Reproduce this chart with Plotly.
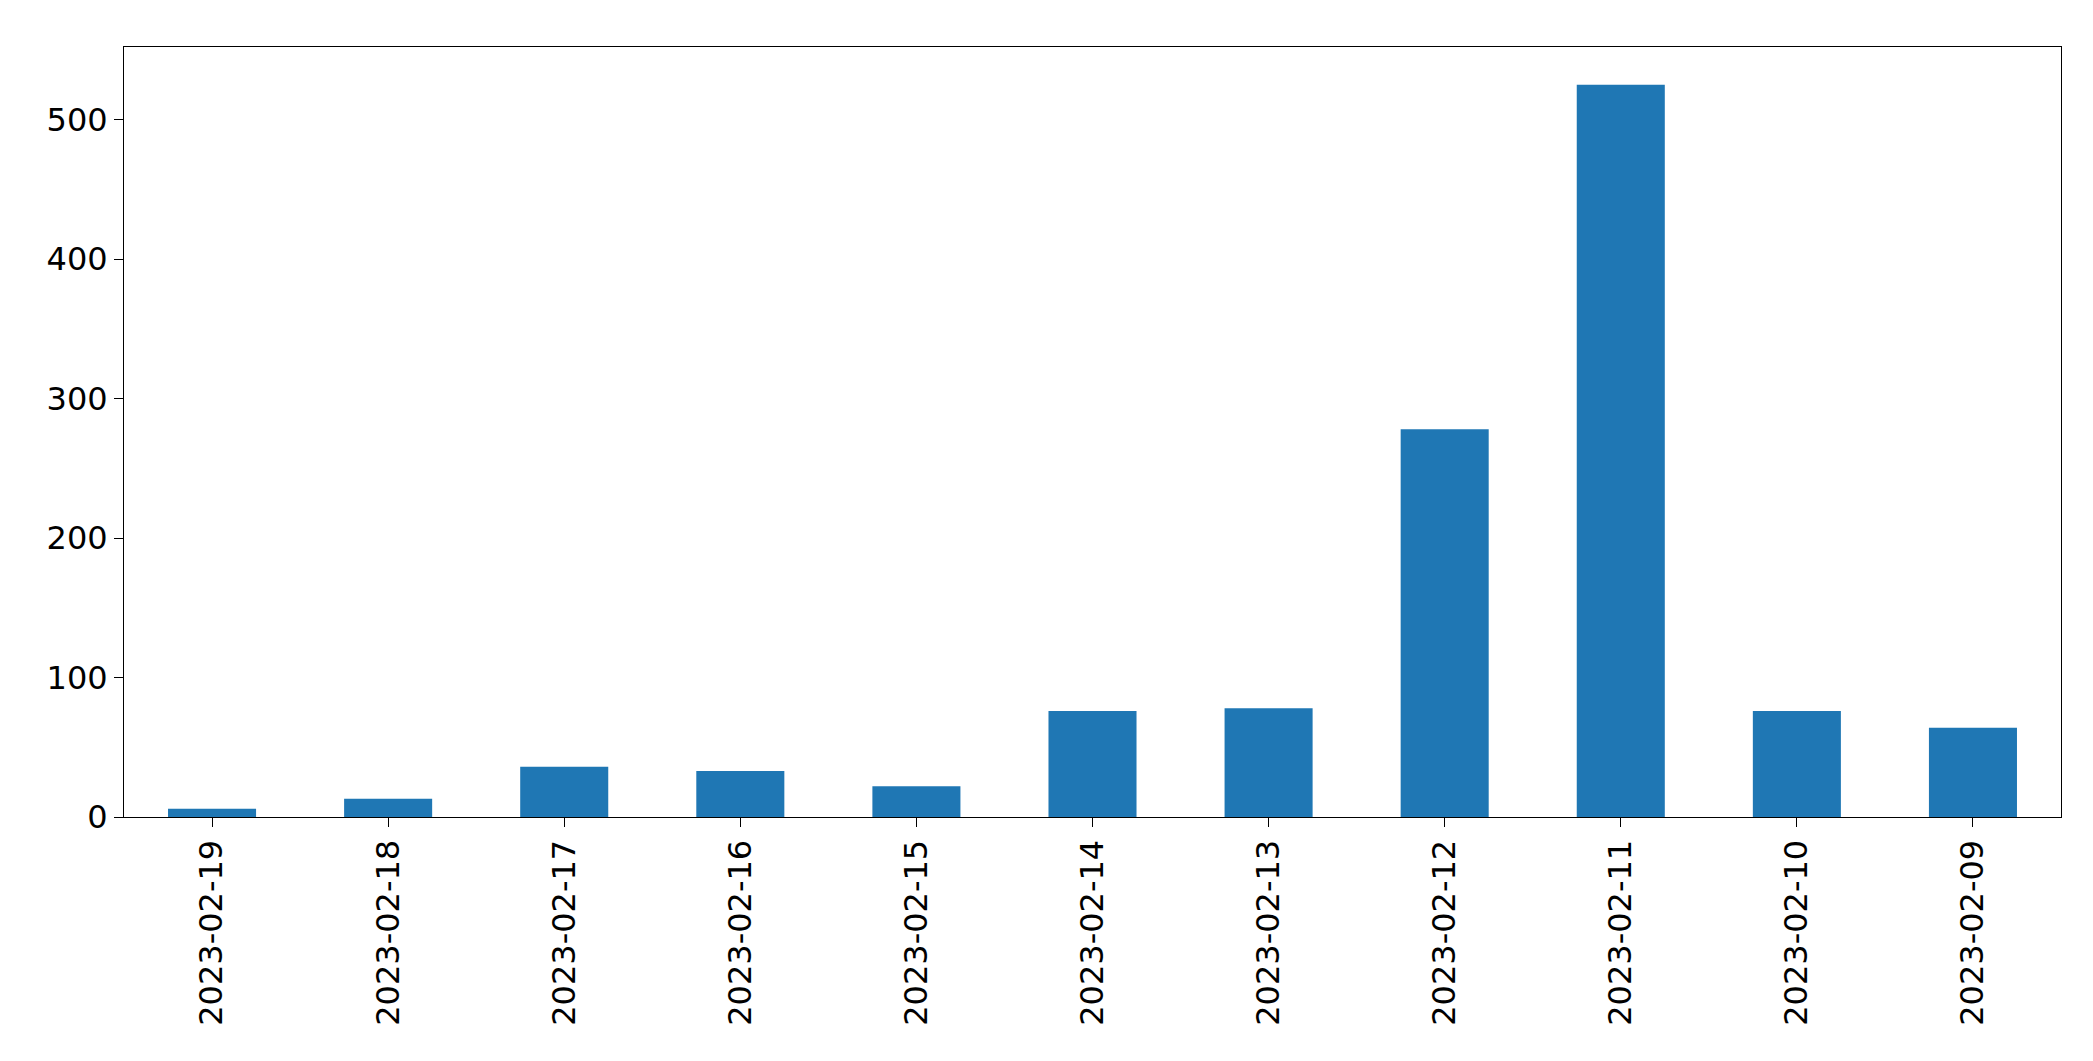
import plotly.graph_objects as go

dates = ["2023-02-19","2023-02-18","2023-02-17","2023-02-16","2023-02-15","2023-02-14",
         "2023-02-13","2023-02-12","2023-02-11","2023-02-10","2023-02-09"]
counts = [6, 13, 36, 33, 22, 76, 78, 278, 525, 76, 64]

fig = go.Figure(go.Bar(x=dates, y=counts, width=0.5, marker_color="#1f77b4", marker_line_width=0))
fig.update_layout(
    width=2093, height=1061, plot_bgcolor="white", paper_bgcolor="white",
    margin=dict(l=116, r=40, t=39, b=252), showlegend=False,
    font=dict(family="DejaVu Sans", size=32, color="black"),
)
fig.update_xaxes(type="category", tickangle=-90, showline=True, linecolor="black", mirror=True,
                 ticks="outside", ticklen=9, tickcolor="black", showgrid=False, range=[-0.5, 10.5])
fig.update_yaxes(range=[0, 552], tickvals=[0,100,200,300,400,500], showline=True, linecolor="black",
                 mirror=True, ticks="outside", ticklen=9, tickcolor="black", showgrid=False, zeroline=False)
fig.write_html("out.html")
